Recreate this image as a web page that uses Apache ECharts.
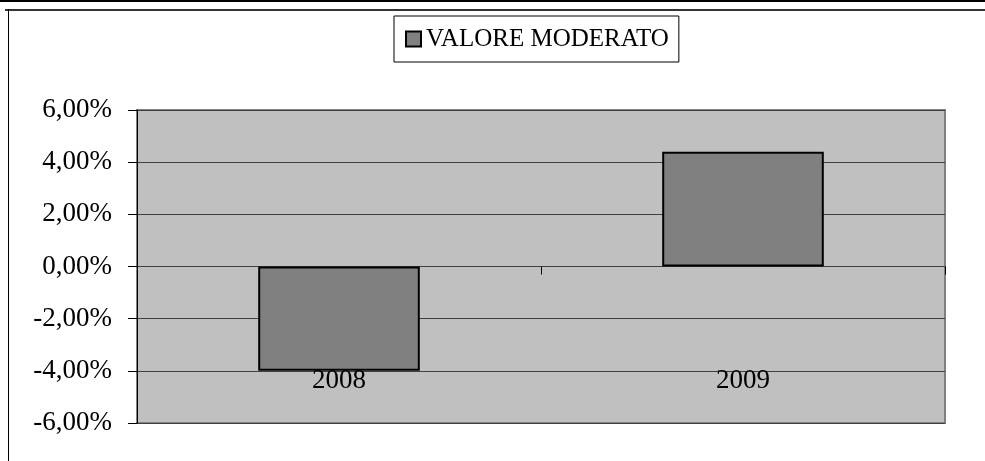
<!DOCTYPE html>
<html>
<head>
	<meta charset="UTF-8">
	<title></title>
	<script type="text/javascript" src="https://cdn.jsdelivr.net/npm/echarts@6/dist/echarts.min.js"></script>
	<style type="text/css">
		html,body{margin:0; padding:0; background:#fff;}
		.wrap{position:relative; width:985px; height:461px; overflow:hidden;}
		.echarts{position:absolute; left:0; top:0; width:985px; height:461px;}
		.topline{position:absolute; left:0; top:0; width:985px; height:2px; background:#000;}
		.frameTop{position:absolute; left:5px; top:9px; width:980px; height:2px; background:#333;}
		.frameLeft{position:absolute; left:8px; top:9px; width:1px; height:452px; background:#000;}
	</style>
</head>
<body>
	<div class="wrap">
		<div class="echarts" id="chart1"></div>
		<div class="topline"></div>
		<div class="frameTop"></div>
		<div class="frameLeft"></div>
	</div>
	<script type="text/javascript">
		// dati
		var anni = ['2008', '2009'];
		var valoreModerato = [-4.0, 4.4];
		var nomeSerie = 'VALORE MODERATO';

		var font = '"Liberation Serif", "Times New Roman", serif';

		let myChart = echarts.init(document.getElementById('chart1'));
		var option = {
			animation: false,
			legend: {
				left: 394,
				top: 16,
				padding: [10, 10, 10, 11],
				backgroundColor: '#fff',
				borderColor: '#000',
				borderWidth: 1,
				itemWidth: 15,
				itemHeight: 15,
				itemGap: 0,
				icon: 'rect',
				textStyle: {fontFamily: font, fontSize: 25, color: '#000', lineHeight: 26},
				data: [nomeSerie]
			},
			grid: {
				left: 137,
				right: 40,
				top: 110,
				bottom: 38,
				containLabel: false,
				outerBoundsMode: 'none',
				show: true,
				backgroundColor: '#c0c0c0',
				borderColor: '#808080',
				borderWidth: 2
			},
			xAxis: [
				{
					// etichette anni (in basso, spostate dentro l'area)
					type: 'category',
					data: anni,
					position: 'bottom',
					z: 5,
					axisLine: {show: false, onZero: false},
					axisTick: {show: false},
					axisLabel: {margin: -55, fontFamily: font, fontSize: 27, color: '#000', lineHeight: 26},
					splitLine: {show: false}
				},
				{
					// asse sullo zero con le tacche
					type: 'category',
					data: anni,
					position: 'bottom',
					axisLine: {show: true, onZero: true, lineStyle: {color: '#404040', width: 1}},
					axisTick: {show: true, length: 8, lineStyle: {color: '#000'}},
					axisLabel: {show: false},
					splitLine: {show: false}
				}
			],
			yAxis: {
				type: 'value',
				min: -6,
				max: 6,
				interval: 2,
				axisLine: {show: true, lineStyle: {color: '#000', width: 1}},
				axisTick: {show: true, length: 9, lineStyle: {color: '#000'}},
				axisLabel: {
					margin: 25,
					fontFamily: font,
					fontSize: 27,
					color: '#000',
					formatter: function(v){ return v.toFixed(2).replace('.', ',') + '%'; }
				},
				splitLine: {show: true, lineStyle: {color: '#404040', width: 1}}
			},
			series: [
				{
					name: nomeSerie,
					type: 'bar',
					data: valoreModerato,
					barWidth: '40%',
					itemStyle: {color: '#808080', borderColor: '#000', borderWidth: 2}
				}
			]
		};
		myChart.setOption(option);
	</script>
</body>
</html>
